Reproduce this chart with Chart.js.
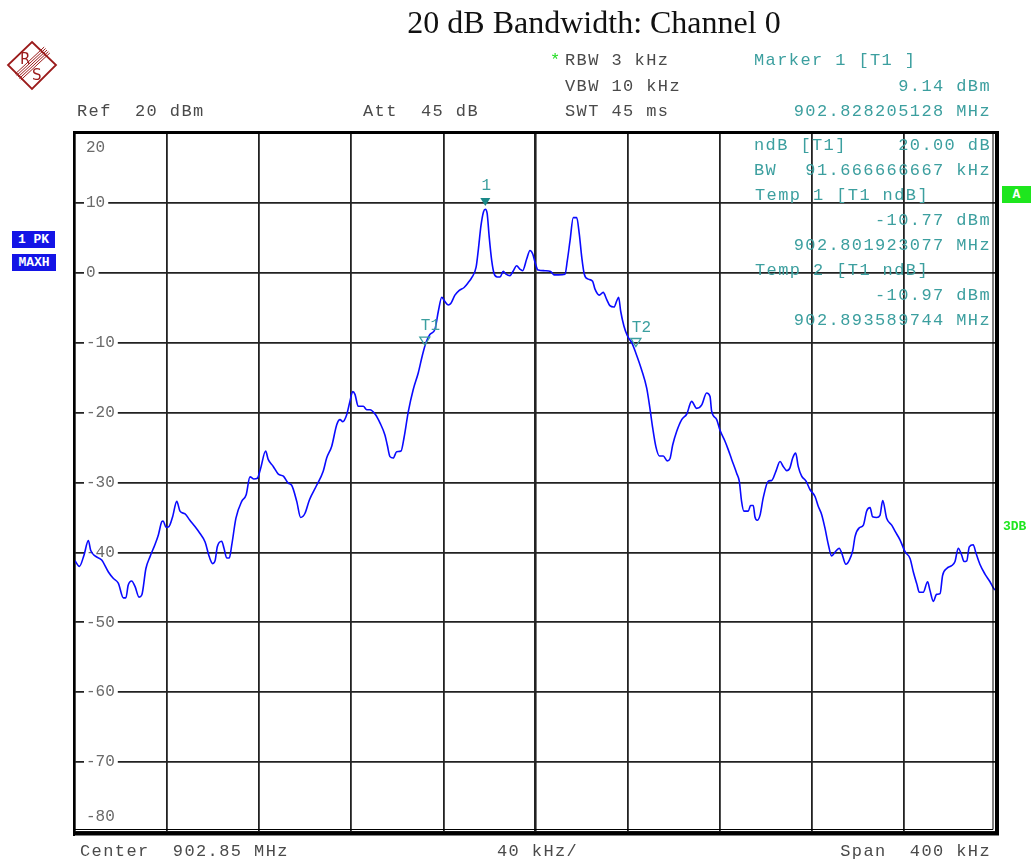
<!DOCTYPE html>
<html>
<head>
<meta charset="utf-8">
<script src="https://cdn.jsdelivr.net/npm/chart.js@4.4.1/dist/chart.umd.min.js"></script>
<style>
body { margin: 0; background: #fff; }
#wrap { position: relative; width: 1035px; height: 863px; overflow: hidden; }
#chart { position: absolute; left: 0; top: 0; }
.t { position: absolute; font-family: "Liberation Mono", monospace; font-size: 17px; letter-spacing: 1.4px;
     line-height: 18px; white-space: pre; color: #4a4a4a; }
.c { color: #3c9f9f; }
.r { right: 44px; text-align: right; }
.box { position: absolute; font-family: "Liberation Mono", monospace; font-weight: bold; font-size: 13px;
       color: #fff; text-align: center; line-height: 17px; height: 17px; }
</style>
</head>
<body>
<div id="wrap">
<canvas id="chart" width="1035" height="863"></canvas>

<div style="position:absolute;left:394px;top:4px;width:400px;text-align:center;font-family:'Liberation Serif',serif;font-size:32px;color:#111;">20 dB Bandwidth: Channel 0</div>

<svg style="position:absolute;left:0;top:0" width="64" height="100">
  <polygon points="32,42 56,65 32,89 8,65" fill="none" stroke="#9b1b1b" stroke-width="1.8"/>
  <g stroke="#9b1b1b" stroke-width="1">
    <line x1="15.2" y1="74" x2="44.2" y2="47"/>
    <line x1="16.6" y1="75.5" x2="45.6" y2="48.5"/>
    <line x1="18" y1="77" x2="47" y2="50"/>
    <line x1="19.4" y1="78.5" x2="48.4" y2="51.5"/>
    <line x1="20.8" y1="80" x2="49.8" y2="53"/>
  </g>
  <text x="20" y="64" font-family="DejaVu Sans" font-size="15" fill="#9b1b1b">R</text>
  <text x="32" y="80" font-family="DejaVu Sans" font-size="15" fill="#9b1b1b">S</text>
</svg>

<div class="t" style="left:77px;top:103px">Ref  20 dBm</div>
<div class="t" style="left:363px;top:103px">Att  45 dB</div>
<div class="t" style="left:550px;top:52px;color:#22dd22">*</div>
<div class="t" style="left:565px;top:52px">RBW 3 kHz</div>
<div class="t" style="left:565px;top:78px">VBW 10 kHz</div>
<div class="t" style="left:565px;top:103px">SWT 45 ms</div>

<div class="t c" style="left:754px;top:52px">Marker 1 [T1 ]</div>
<div class="t c r" style="top:78px">9.14 dBm</div>
<div class="t c r" style="top:103px">902.828205128 MHz</div>
<div class="t c" style="left:754px;top:137px">ndB [T1]</div>
<div class="t c r" style="top:137px">20.00 dB</div>
<div class="t c" style="left:754px;top:162px">BW</div>
<div class="t c r" style="top:162px">91.666666667 kHz</div>
<div class="t c" style="left:755px;top:187px">Temp 1 [T1 ndB]</div>
<div class="t c r" style="top:212px">-10.77 dBm</div>
<div class="t c r" style="top:237px">902.801923077 MHz</div>
<div class="t c" style="left:755px;top:262px">Temp 2 [T1 ndB]</div>
<div class="t c r" style="top:287px">-10.97 dBm</div>
<div class="t c r" style="top:312px">902.893589744 MHz</div>

<div class="t" style="left:80px;top:843px">Center  902.85 MHz</div>
<div class="t" style="left:497px;top:843px">40 kHz/</div>
<div class="t r" style="top:843px">Span  400 kHz</div>

<div class="box" style="left:12px;top:231px;width:43px;background:#1414e6;">1 PK</div>
<div class="box" style="left:12px;top:254px;width:44px;background:#1414e6;">MAXH</div>
<div class="box" style="left:1002px;top:186px;width:29px;background:#1ee61e;">A</div>
<div class="box" style="left:1003px;top:518px;width:32px;color:#1ee61e;text-align:left;">3DB</div>
</div>

<script>
// trace: frequency offset from start (902.65 MHz) in kHz, level in dBm
const freqKHz = [
  0,1.9,3.9,5.8,6.8,8.7,11.6,14.5,16.6,18.8,
  21.0,22.1,23.1,24.6,26.1,27.8,29.0,30.8,32.6,34.7,
  36.2,37.7,38.3,39.5,40.8,42.4,44.2,45.6,47.8,49.9,
  52.1,54.3,56.5,58.3,59.8,60.9,61.8,63.7,64.7,65.9,
  67.0,68.1,69.9,72.4,74.3,76.0,77.7,79.2,80.6,82.8,
  83.9,86.1,88.3,90.5,92.6,94.1,96.3,98.0,99.9,101.8,
  104.8,107.8,109.3,111.5,113.7,115.1,116.3,118.0,119.4,120.6,
  121.6,123.0,125.2,126.7,128.1,130.3,132.5,134.6,135.6,136.8,
  138.2,139.7,141.6,142.9,144.8,146.9,149.1,150.8,152.4,154.2,
  156.3,157.8,159.3,160.4,162.1,163.2,165.0,166.9,169.0,170.8,
  172.3,174.2,175.2,176.3,177.4,178.2,179.0,179.9,181.0,182.0,
  183.4,184.6,186.0,187.2,188.9,190.4,191.8,193.3,194.4,196.2,
  197.6,198.8,199.8,200.8,201.2,204.1,206.6,208.0,209.9,212.8,
  213.8,215.0,216.4,217.9,219.0,220.1,221.2,222.9,224.8,225.8,
  227.7,229.4,230.9,232.3,234.1,235.3,236.1,237.0,238.4,239.9,
  241.8,243.6,246.1,248.3,249.7,250.9,252.3,253.8,255.5,257.2,
  258.4,259.6,261.3,263.5,265.7,267.8,270.0,272.2,274.3,275.8,
  276.5,278.7,280.1,282.3,283.7,285.2,287.4,288.5,289.5,290.5,
  292.4,293.4,294.6,295.3,296.3,297.5,298.9,301.1,302.6,304.4,
  306.2,307.6,309.1,310.5,311.7,313.0,314.1,315.6,317.5,319.2,
  321.4,322.8,324.3,325.7,327.2,328.6,330.5,331.9,333.0,334.8,
  336.3,337.8,338.8,340.6,342.4,343.8,345.3,346.4,348.2,349.6,
  350.8,352.5,354.7,356.2,358.3,360.5,362.7,364.1,365.6,366.7,
  368.4,370.3,371.3,372.8,374.2,375.7,376.8,378.6,380.7,382.2,
  383.6,385.1,386.1,387.3,388.4,390.1,391.3,393.0,395.2,397.4,
  399.1,400
];
const levelDbm = [
  -41.2,-42.0,-40.4,-38.3,-39.7,-40.5,-41.1,-42.8,-43.7,-44.4,
  -46.5,-46.5,-44.7,-44.1,-44.9,-46.4,-46.1,-42.3,-40.6,-38.9,
  -37.5,-35.6,-35.5,-36.4,-36.3,-34.9,-32.7,-34.1,-34.5,-35.4,
  -36.3,-37.3,-38.5,-40.6,-41.6,-41.1,-39.2,-38.4,-39.4,-40.8,
  -40.8,-38.9,-35.1,-32.7,-31.8,-29.2,-29.5,-29.4,-28.0,-25.5,
  -26.7,-27.7,-28.8,-29.1,-30.1,-30.4,-32.7,-35.0,-34.4,-32.5,
  -30.5,-28.4,-26.5,-24.8,-21.7,-21.0,-21.3,-20.3,-18.4,-17.0,
  -17.4,-19.1,-19.1,-19.6,-19.6,-20.2,-21.5,-23.2,-24.6,-26.3,
  -26.5,-25.6,-25.5,-23.6,-19.8,-16.7,-14.3,-11.9,-10.0,-8.8,
  -8.1,-5.5,-3.5,-4.0,-4.6,-4.4,-3.2,-2.5,-2.1,-1.4,
  -0.7,0.8,3.4,6.7,8.7,9.1,8.5,5.1,1.7,-0.1,
  -0.6,-0.6,0.2,-0.2,-0.4,0.3,1.0,0.5,0.3,2.0,
  3.2,2.7,1.5,0.5,0.4,0.3,0.2,-0.3,-0.3,-0.2,
  1.7,4.6,7.9,7.9,5.6,2.2,-0.2,-0.9,-1.2,-2.3,
  -3.2,-2.8,-3.8,-4.7,-4.9,-4.0,-3.5,-5.5,-7.6,-9.0,
  -10.0,-11.5,-13.9,-16.5,-19.4,-22.2,-24.9,-26.2,-26.2,-26.9,
  -26.6,-24.6,-22.7,-21.0,-20.2,-18.4,-19.4,-18.9,-17.2,-17.7,
  -19.8,-21.0,-22.5,-24.1,-25.3,-26.7,-28.7,-29.8,-32.7,-34.1,
  -34.1,-33.3,-33.3,-34.9,-35.4,-34.7,-32.2,-29.8,-29.7,-28.4,
  -27.0,-27.7,-28.3,-27.9,-26.5,-25.8,-27.7,-29.1,-29.8,-31.0,
  -32.0,-33.4,-34.6,-36.5,-38.9,-40.5,-39.8,-39.4,-40.1,-41.7,
  -41.1,-39.7,-37.7,-36.5,-36.1,-34.1,-33.6,-34.9,-35.0,-34.7,
  -32.6,-35.1,-36.1,-37.0,-38.2,-39.9,-40.9,-42.8,-44.5,-45.7,
  -45.7,-44.2,-45.4,-47.0,-46.0,-45.9,-43.3,-42.3,-41.9,-41.3,
  -39.4,-40.4,-41.3,-41.2,-39.2,-38.9,-40.1,-41.7,-43.1,-44.2,
  -45.2,-45.4
];

// markers
const markerNames = ['1', 'T1', 'T2'];
const markerFreq = [178.205128, 151.923077, 243.589744];
const markerLevel = [9.14, -10.77, -10.97];

// y axis labels
const yTickValues = [20, 10, 0, -10, -20, -30, -40, -50, -60, -70, -80];
const yTickLabels = ['20', '10', '0', '-10', '-20', '-30', '-40', '-50', '-60', '-70', '-80'];

const teal = '#3c9f9f';

const overlay = {
  id: 'overlay',
  beforeDatasetsDraw(chart) {
    const { ctx, scales: { y } } = chart;
    ctx.save();
    ctx.font = '16px "Liberation Mono"';
    ctx.textBaseline = 'middle';
    yTickValues.forEach((v, i) => {
      let py = y.getPixelForValue(v);
      if (v === y.max) py += 15;
      if (v === y.min) py -= 15;
      const w = ctx.measureText(yTickLabels[i]).width;
      ctx.fillStyle = '#fff';
      ctx.fillRect(84, py - 8, w + 5, 16);
      ctx.fillStyle = '#6a6a6a';
      ctx.fillText(yTickLabels[i], 86, py);
    });
    ctx.restore();
  },
  afterDatasetsDraw(chart) {
    const { ctx, chartArea: a, scales: { x, y } } = chart;
    ctx.save();
    // frame
    ctx.strokeStyle = '#000';
    ctx.lineWidth = 2;
    ctx.beginPath(); ctx.moveTo(a.left - 1, a.top - 2); ctx.lineTo(a.left - 1, a.bottom + 4); ctx.stroke();
    ctx.lineWidth = 3;
    ctx.beginPath(); ctx.moveTo(a.left - 2, a.top - 0.5); ctx.lineTo(a.right + 3, a.top - 0.5); ctx.stroke();
    ctx.lineWidth = 1;
    ctx.beginPath(); ctx.moveTo(a.right - 3, a.top); ctx.lineTo(a.right - 3, a.bottom - 2.5); ctx.lineTo(a.left, a.bottom - 2.5); ctx.stroke();
    ctx.lineWidth = 4;
    ctx.beginPath(); ctx.moveTo(a.right + 1, a.top - 2); ctx.lineTo(a.right + 1, a.bottom + 1.5); ctx.lineTo(a.left - 2, a.bottom + 1.5); ctx.stroke();

    // markers
    ctx.font = '16px "Liberation Mono"';
    ctx.textBaseline = 'middle';
    markerNames.forEach((name, i) => {
      const px = x.getPixelForValue(markerFreq[i]);
      const tip = y.getPixelForValue(markerLevel[i]) - 3;
      ctx.beginPath();
      ctx.moveTo(px - 5, tip - 8); ctx.lineTo(px + 5, tip - 8); ctx.lineTo(px, tip); ctx.closePath();
      if (name.length === 1) {
        ctx.fillStyle = '#1a8888';
        ctx.fill();
        ctx.fillStyle = teal;
        ctx.textAlign = 'center';
        ctx.fillText(name, px + 1, tip - 20);
      } else {
        ctx.strokeStyle = teal;
        ctx.lineWidth = 1.3;
        ctx.stroke();
        ctx.fillStyle = teal;
        ctx.textAlign = 'left';
        ctx.fillText(name, px - 4, tip - 19);
      }
    });
    ctx.restore();
  }
};

const points = freqKHz.map((f, i) => ({ x: f, y: levelDbm[i] }));

new Chart(document.getElementById('chart'), {
  type: 'line',
  data: {
    datasets: [{
      data: points,
      borderColor: '#0a0aff',
      borderWidth: 1.6,
      pointRadius: 0,
      cubicInterpolationMode: 'monotone',
      fill: false
    }]
  },
  options: {
    responsive: false,
    animation: false,
    events: [],
    layout: { padding: { left: 75, right: 39, top: 133, bottom: 31 } },
    plugins: { legend: { display: false }, tooltip: { enabled: false } },
    scales: {
      x: {
        type: 'linear', min: 0, max: 400,
        ticks: { display: false, stepSize: 40 },
        border: { display: false },
        grid: {
          drawTicks: false,
          color: '#222',
          lineWidth: (c) => (c.tick && c.tick.value === 200 ? 2.6 : 1.8)
        }
      },
      y: {
        min: -80, max: 20,
        ticks: { display: false, stepSize: 10 },
        border: { display: false },
        grid: { drawTicks: false, color: '#222', lineWidth: 1.8 }
      }
    }
  },
  plugins: [overlay]
});
</script>
</body>
</html>
